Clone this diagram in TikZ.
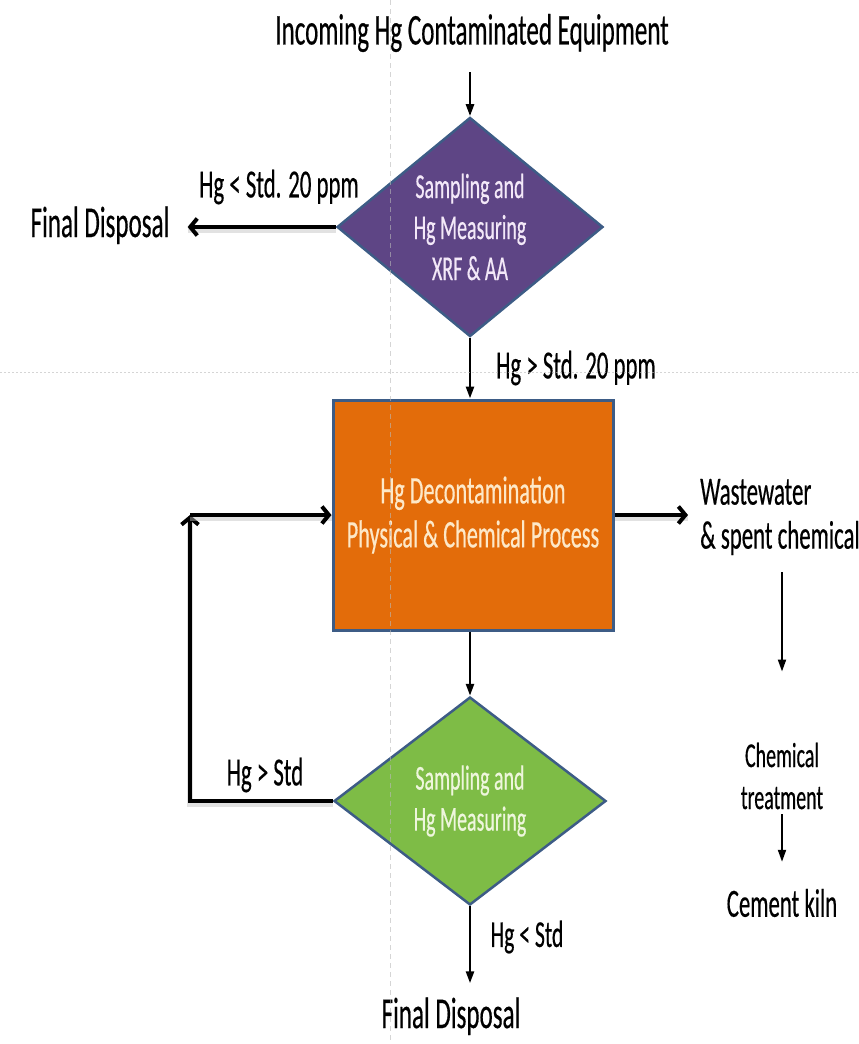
\documentclass[tikz,border=0pt]{standalone}
\usepackage{fontspec}
\setmainfont[FakeStretch=0.57,FakeBold=0.4]{Carlito}
\usetikzlibrary{arrows.meta,shapes.geometric,positioning}

\definecolor{hgpurple}{HTML}{5E4585}
\definecolor{hgorange}{HTML}{E36C0A}
\definecolor{hggreen}{HTML}{7EBC46}
\definecolor{hgedge}{HTML}{3D5C86}
\definecolor{lavender}{HTML}{F3E8F8}
\definecolor{peach}{HTML}{FDE8C8}
\definecolor{palegreen}{HTML}{EEF6DC}

\tikzset{
  every node/.append style={inner sep=0pt},
  lbl/.style={font=\fontsize{40}{44}\selectfont},
  big/.style={font=\fontsize{44}{48}\selectfont},
  decision/.style={diamond, draw=hgedge, line width=2.5pt, inner sep=0pt,
    align=center, font=\fontsize{35}{41}\selectfont},
  process/.style={rectangle, draw=hgedge, line width=3pt, fill=hgorange,
    text=peach, align=center, minimum width=280pt, minimum height=230pt,
    font=\fontsize{39}{44}\selectfont},
  flow/.style={line width=2.5pt, -{Triangle[length=12pt,width=8pt]}},
  heavy flow/.style={line width=4pt, line join=miter,
    -{Straight Barb[length=7pt,width=17pt,line width=4pt]},
    preaction={draw=black!25, line width=6pt, -, transform canvas={yshift=-3pt}, opacity=.45}},
  guide/.style={draw=gray!55, line width=.8pt, opacity=.6},
}

\begin{document}
\begin{tikzpicture}[x=1pt,y=-1pt]
  \useasboundingbox (0,0) rectangle (859,1044);

  % main column
  \node[font=\fontsize{44}{48}\selectfont] (incoming) at (472,33) {Incoming Hg Contaminated Equipment};
  \node[decision, fill=hgpurple, text=lavender, minimum width=266pt, minimum height=210pt]
    (measure) at (470,227) {Sampling and\\Hg Measuring\\XRF \& AA};
  \node[process] (decon) at (473,515) {Hg Decontamination\\Physical \& Chemical Process};
  \node[decision, fill=hggreen, text=palegreen, minimum width=272pt, minimum height=208pt]
    (remeasure) at (470,801) {Sampling and\\Hg Measuring};
  \node[big, anchor=base] (disposalB) at (451,1028) {Final Disposal};

  % side outputs
  \node[big, anchor=base] (disposalA) at (100,237) {Final Disposal};
  \node[lbl, align=left, anchor=west] (waste) at (700,517) {Wastewater\\\& spent chemical};
  \node[align=center, font=\fontsize{35}{42}\selectfont] (chem) at (782,776) {Chemical\\treatment};
  \node[lbl] (kiln) at (782,903) {Cement kiln};

  % branch labels
  \node[lbl] (lowA) at (279,187) {Hg < Std. 20 ppm};
  \node[lbl] (highA) at (576,368) {Hg > Std. 20 ppm};
  \node[lbl] (highB) at (265,775) {Hg > Std};
  \node[font=\fontsize{38}{44}\selectfont] (lowB) at (527,937) {Hg < Std};

  \coordinate (loopbot) at (190,801);
  \coordinate (looptop) at (190,515);

  \draw[flow, shorten <=20pt] (incoming.south -| measure.north) -- (measure.north);
  \draw[flow] (measure.south) -- (measure.south |- decon.north);
  \draw[flow] (remeasure.north |- decon.south) -- (remeasure.north);
  \draw[flow, shorten >=14pt] (remeasure.south) -- (remeasure.south |- disposalB.north);

  \draw[heavy flow, shorten >=18pt] (measure.west) -- (measure.west -| disposalA.east);
  \draw[heavy flow] (remeasure.west) -- (loopbot) -- (looptop);
  \draw[heavy flow] (looptop) -- (decon.west);
  \draw[heavy flow, shorten >=12pt] (decon.east) -- (decon.east -| waste.west);

  \draw[flow, line width=2pt, shorten <=17pt, shorten >=71pt] (chem.north |- waste.south) -- (chem.north);
  \draw[flow, line width=2pt, shorten <=5pt, shorten >=27pt] (chem.south) -- (kiln.north);

  % layout guides
  \draw[guide, dash pattern=on 5pt off 4pt] (390,0) -- (390,1044);
  \draw[guide, dash pattern=on 2pt off 2pt] (0,372) -- (859,372);
\end{tikzpicture}
\end{document}
